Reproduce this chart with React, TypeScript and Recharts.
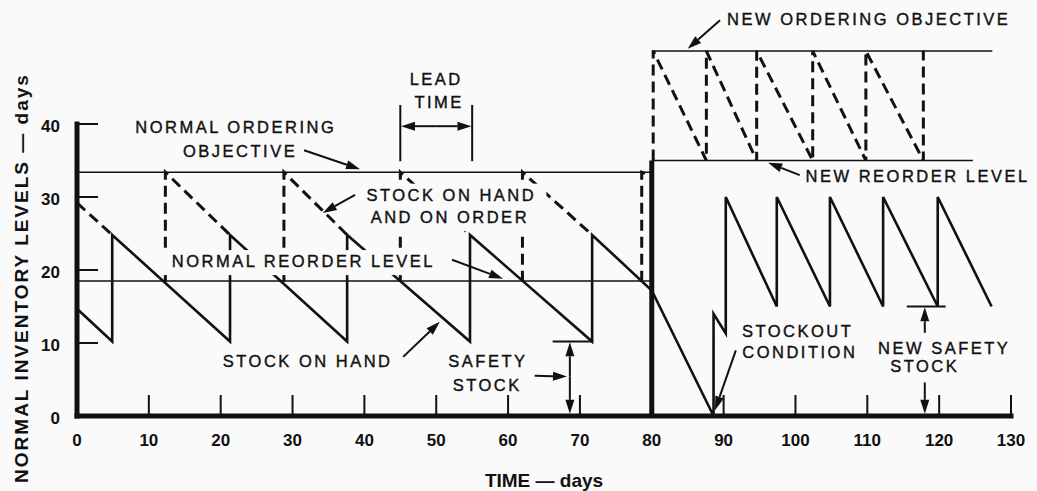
import { ComposedChart, Line, Scatter, XAxis, YAxis, ReferenceLine } from 'recharts';

const INK = '#111';
const PAPER = '#fafafa';
const FONT = '"Liberation Sans", Arial, Helvetica, sans-serif';

const xTicks = [0, 10, 20, 30, 40, 50, 60, 70, 80, 90, 100, 110, 120, 130];
const yTicks = [0, 10, 20, 30, 40];

// solid sawtooth: stock on hand
const stockOnHand = [
  { day: 0, level: 14.7 },
  { day: 4.9, level: 10.2 },
  { day: 4.9, level: 24.8 },
  { day: 21.3, level: 10.2 },
  { day: 21.3, level: 24.8 },
  { day: 37.6, level: 10.2 },
  { day: 37.6, level: 24.8 },
  { day: 54.7, level: 10.2 },
  { day: 54.7, level: 24.8 },
  { day: 71.7, level: 10.2 },
  { day: 71.7, level: 24.8 },
  { day: 80, level: 17.2 },
  { day: 88.6, level: 0 },
  { day: 88.6, level: 14 },
  { day: 90.3, level: 11.3 },
  { day: 90.3, level: 30 },
  { day: 97.4, level: 15 },
  { day: 97.4, level: 30 },
  { day: 104.8, level: 15 },
  { day: 104.8, level: 30 },
  { day: 112.2, level: 15 },
  { day: 112.2, level: 30 },
  { day: 119.8, level: 15 },
  { day: 119.8, level: 30 },
  { day: 127.3, level: 15 },
];

// dashed: stock on hand and on order (only where it leaves the solid line)
const onHandOnOrder = [
  { day: 0, level: 29.2 },
  { day: 4.9, level: 24.8 },
  { day: 4.9, level: null },
  { day: 12.3, level: 18.4 },
  { day: 12.3, level: 33.4 },
  { day: 21.3, level: 24.8 },
  { day: 21.3, level: null },
  { day: 28.8, level: 18.4 },
  { day: 28.8, level: 33.4 },
  { day: 37.6, level: 24.8 },
  { day: 37.6, level: null },
  { day: 45.0, level: 18.4 },
  { day: 45.0, level: 33.4 },
  { day: 54.7, level: 24.8 },
  { day: 54.7, level: null },
  { day: 62.0, level: 18.4 },
  { day: 62.0, level: 33.4 },
  { day: 71.7, level: 24.8 },
  { day: 71.7, level: null },
  { day: 78.6, level: 18.4 },
  { day: 78.6, level: 33.4 },
  { day: 80, level: 32.9 },
  { day: 80, level: null },
  { day: 80.2, level: 35 },
  { day: 80.2, level: 50 },
  { day: 87.6, level: 35 },
  { day: 87.6, level: 50 },
  { day: 94.6, level: 35 },
  { day: 94.6, level: 50 },
  { day: 102.4, level: 35 },
  { day: 102.4, level: 50 },
  { day: 109.8, level: 35 },
  { day: 109.8, level: 50 },
  { day: 117.8, level: 35 },
  { day: 117.8, level: 50 },
];

const normalObjective = [{ day: 0, level: 33.4 }, { day: 80, level: 33.4 }];
const normalReorder = [{ day: 0, level: 18.5 }, { day: 80, level: 18.5 }];
const newObjective = [{ day: 80, level: 50 }, { day: 127.4, level: 50 }];
const newReorder = [{ day: 80, level: 35 }, { day: 124.7, level: 35 }];
const changeover = [{ day: 80, level: 0 }, { day: 80, level: 35 }];

// thin marker lines (lead time bracket, safety stock levels)
const markers = [
  [{ x: 45.0, y: 34.9 }, { x: 45.0, y: 42.6 }],
  [{ x: 55.0, y: 34.9 }, { x: 55.0, y: 42.6 }],
  [{ x: 66.2, y: 10.2 }, { x: 71.7, y: 10.2 }],
  [{ x: 115.5, y: 15 }, { x: 120.9, y: 15 }],
];

// pointer arrows: tail -> head
const pointers = [
  [{ x: 89.5, y: 54.2 }, { x: 85.0, y: 50.3 }],
  [{ x: 50.0, y: 39.7 }, { x: 45.1, y: 39.7 }],
  [{ x: 50.0, y: 39.7 }, { x: 54.9, y: 39.7 }],
  [{ x: 31.6, y: 36.4 }, { x: 39.4, y: 33.8 }],
  [{ x: 38.7, y: 30.3 }, { x: 34.2, y: 27.8 }],
  [{ x: 52.2, y: 21.4 }, { x: 59.3, y: 18.8 }],
  [{ x: 45.4, y: 8.1 }, { x: 50.5, y: 12.9 }],
  [{ x: 63.7, y: 5.5 }, { x: 68.2, y: 5.4 }],
  [{ x: 68.6, y: 5.4 }, { x: 68.6, y: 10.1 }],
  [{ x: 68.6, y: 5.4 }, { x: 68.6, y: 0.3 }],
  [{ x: 91.7, y: 9.0 }, { x: 88.8, y: 0.8 }],
  [{ x: 118.0, y: 11.4 }, { x: 118.0, y: 14.9 }],
  [{ x: 118.0, y: 4.6 }, { x: 118.0, y: 0.3 }],
  [{ x: 100.6, y: 33.0 }, { x: 96.2, y: 34.7 }],
];

const notes = [
  { text: 'NEW ORDERING OBJECTIVE', day: 110.2, level: 53.6 },
  { text: 'LEAD', day: 50.0, level: 45.3 },
  { text: 'TIME', day: 50.4, level: 42.2 },
  { text: 'NORMAL ORDERING', day: 22.1, level: 38.8 },
  { text: 'OBJECTIVE', day: 22.7, level: 35.5 },
  { text: 'STOCK ON HAND', day: 52.1, level: 29.5, mask: true },
  { text: 'AND ON ORDER', day: 51.9, level: 26.4, mask: true },
  { text: 'NORMAL REORDER LEVEL', day: 31.5, level: 20.4, mask: true },
  { text: 'STOCK ON HAND', day: 32.1, level: 6.7 },
  { text: 'SAFETY', day: 57.2, level: 6.7 },
  { text: 'STOCK', day: 57.1, level: 3.4 },
  { text: 'STOCKOUT', day: 100.3, level: 10.8 },
  { text: 'CONDITION', day: 100.6, level: 7.9 },
  { text: 'NEW SAFETY', day: 120.7, level: 8.5 },
  { text: 'STOCK', day: 118.0, level: 6.0 },
  { text: 'NEW REORDER LEVEL', day: 117.0, level: 32.1 },
];

const XTick = (props: any) => {
  const { x, y, payload } = props;
  return (
    <g>
      {payload.value > 0 && <line x1={x} y1={y} x2={x} y2={y - 21} stroke={INK} strokeWidth={2} />}
      <text x={x} y={y + 30} textAnchor="middle" fontSize={17} fontWeight="bold" fontFamily={FONT} fill={INK}>
        {payload.value}
      </text>
    </g>
  );
};

const YTick = (props: any) => {
  const { x, y, payload } = props;
  return (
    <g>
      {payload.value > 0 && <line x1={x} y1={y} x2={x + 21} y2={y} stroke={INK} strokeWidth={2} />}
      <text x={x - 17} y={y + 8} textAnchor="end" fontSize={17} fontWeight="bold" fontFamily={FONT} fill={INK}>
        {payload.value}
      </text>
    </g>
  );
};

const Arrow = (props: any) => {
  const { x1, y1, x2, y2 } = props;
  const a = Math.atan2(y2 - y1, x2 - x1);
  const len = 14;
  const w = 4.5;
  const bx = x2 - len * Math.cos(a);
  const by = y2 - len * Math.sin(a);
  const p1 = `${bx + w * Math.sin(a)},${by - w * Math.cos(a)}`;
  const p2 = `${bx - w * Math.sin(a)},${by + w * Math.cos(a)}`;
  return (
    <g>
      <line x1={x1} y1={y1} x2={bx} y2={by} stroke={INK} strokeWidth={2} />
      <polygon points={`${x2},${y2} ${p1} ${p2}`} fill={INK} />
    </g>
  );
};

const Note = (props: any) => {
  const { cx, cy, payload } = props;
  const w = payload.text.length * 13.4;
  return (
    <g>
      {payload.mask && <rect x={cx - w / 2 - 8} y={cy - 17} width={w + 16} height={25} fill={PAPER} />}
      <text
        x={cx}
        y={cy}
        textAnchor="middle"
        fontSize={16.5}
        letterSpacing={2.5}
        fontFamily={FONT}
        fill={INK}
        stroke={INK}
        strokeWidth={0.4}
      >
        {payload.text}
      </text>
    </g>
  );
};

const XTitle = (props: any) => {
  const vb = props.viewBox ?? { x: 77, y: 416, width: 934, height: 75 };
  return (
    <text x={vb.x + vb.width / 2} y={vb.y + 71} textAnchor="middle" fontSize={19} fontWeight="bold" fontFamily={FONT} fill={INK}>
      TIME — days
    </text>
  );
};

const YTitle = () => (
  <text
    x={21}
    y={278}
    transform="rotate(-90, 21, 278)"
    textAnchor="middle"
    dominantBaseline="central"
    fontSize={19}
    fontWeight="bold"
    letterSpacing={2}
    fontFamily={FONT}
    fill={INK}
  >
    NORMAL INVENTORY LEVELS — days
  </text>
);

export default function App() {
  return (
    <div style={{ position: 'absolute', left: 0, top: 0, width: 1037, height: 491, background: PAPER }}>
      <ComposedChart width={1037} height={491} margin={{ top: 14.5, right: 26, bottom: 0, left: 0 }}>
        <XAxis
          type="number"
          dataKey="day"
          domain={[0, 130]}
          ticks={xTicks}
          interval={0}
          tick={XTick}
          tickLine={false}
          tickSize={0}
          tickMargin={0}
          axisLine={{ stroke: INK, strokeWidth: 5, strokeLinecap: 'square' }}
          height={75}
          label={{ content: XTitle }}
        />
        <YAxis
          type="number"
          domain={[0, 55]}
          ticks={yTicks}
          interval={0}
          tick={YTick}
          tickLine={false}
          tickSize={0}
          tickMargin={0}
          axisLine={false}
          width={77}
          label={{ content: YTitle }}
        />
        <ReferenceLine
          segment={[{ x: 0, y: 0 }, { x: 0, y: 40 }]}
          stroke={INK}
          strokeWidth={5}
          strokeLinecap="square"
          ifOverflow="visible"
        />
        <Line data={normalObjective} dataKey="level" stroke={INK} strokeWidth={1.5} dot={false} activeDot={false} isAnimationActive={false} />
        <Line data={normalReorder} dataKey="level" stroke={INK} strokeWidth={1.5} dot={false} activeDot={false} isAnimationActive={false} />
        <Line data={newObjective} dataKey="level" stroke={INK} strokeWidth={1.5} dot={false} activeDot={false} isAnimationActive={false} />
        <Line data={newReorder} dataKey="level" stroke={INK} strokeWidth={1.5} dot={false} activeDot={false} isAnimationActive={false} />
        <Line
          data={onHandOnOrder}
          dataKey="level"
          stroke={INK}
          strokeWidth={3}
          strokeDasharray="11 6"
          dot={false}
          activeDot={false}
          isAnimationActive={false}
        />
        <Line data={stockOnHand} dataKey="level" stroke={INK} strokeWidth={2.6} dot={false} activeDot={false} isAnimationActive={false} />
        <Line data={changeover} dataKey="level" stroke={INK} strokeWidth={5} dot={false} activeDot={false} isAnimationActive={false} />
        {markers.map((seg, i) => (
          <ReferenceLine key={`m${i}`} segment={seg} stroke={INK} strokeWidth={2} ifOverflow="visible" />
        ))}
        {pointers.map((seg, i) => (
          <ReferenceLine key={`p${i}`} segment={seg} ifOverflow="visible" shape={Arrow} />
        ))}
        <Scatter data={notes} dataKey="level" shape={Note} isAnimationActive={false} />
      </ComposedChart>
    </div>
  );
}
